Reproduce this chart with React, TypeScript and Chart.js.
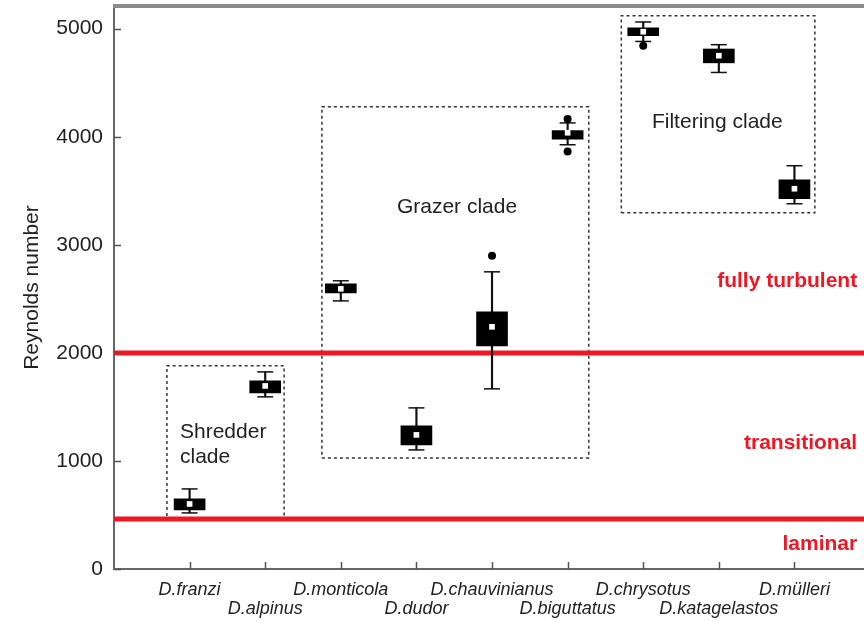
import React, { useEffect, useRef } from 'react';
import { Chart, registerables } from 'chart.js';

Chart.register(...registerables);

// ---- data ----
const species = [
  'D.franzi', 'D.alpinus', 'D.monticola', 'D.dudor', 'D.chauvinianus',
  'D.biguttatus', 'D.chrysotus', 'D.katagelastos', 'D.mülleri',
];
const whiskerLow = [519, 1593, 2481, 1102, 1667, 3926, 4882, 4595, 3380];
const q1 = [546, 1630, 2556, 1148, 2065, 3978, 4935, 4684, 3426];
const q3 = [650, 1741, 2639, 1324, 2380, 4058, 5009, 4812, 3602];
const whiskerHigh = [741, 1824, 2667, 1491, 2750, 4128, 5062, 4852, 3732];
const means = [602, 1694, 2593, 1241, 2241, 4037, 4972, 4750, 3519];
const outlierCat = [5, 6, 6, 7];
const outlierVal = [2898, 4165, 3863, 4843];

const yTicks = [0, 1000, 2000, 3000, 4000, 5000];
const thresholds = [2000, 463];
const regimeLabels = ['fully turbulent', 'transitional', 'laminar'];
const regimeLabelY = [2611, 1111, 176];
const regimeLabelX = 9.83;

const cladeNames = ['Shredder clade', 'Grazer clade', 'Filtering clade'];
const cladeX0 = [0.70, 2.75, 6.71];
const cladeX1 = [2.25, 6.28, 9.27];
const cladeY0 = [470, 1028, 3296];
const cladeY1 = [1880, 4278, 5120];

const X_MIN = 0;
const X_MAX = 9.92;
const Y_MIN = 0;
const Y_MAX = 5210;

const FONT = '"Liberation Sans", Arial, Helvetica, sans-serif';
const RED = 'rgb(240, 22, 36)';
const INK = '#222222';

const decorPlugin = {
  id: 'decor',
  afterDatasetsDraw(chart: any) {
    const { ctx, chartArea, scales } = chart;
    const x = scales.x;
    const y = scales.y;
    ctx.save();
    // top frame line
    ctx.strokeStyle = '#8c8c8c';
    ctx.lineWidth = 4;
    ctx.beginPath();
    ctx.moveTo(chartArea.left - 1, chartArea.top);
    ctx.lineTo(chartArea.right, chartArea.top);
    ctx.stroke();

    // inward tick marks
    ctx.strokeStyle = '#555';
    ctx.lineWidth = 1.5;
    ctx.beginPath();
    yTicks.forEach((v) => {
      const py = Math.round(y.getPixelForValue(v)) + 0.5;
      ctx.moveTo(chartArea.left, py);
      ctx.lineTo(chartArea.left + 7, py);
    });
    species.forEach((_, i) => {
      const px = Math.round(x.getPixelForValue(i + 1)) + 0.5;
      ctx.moveTo(px, chartArea.bottom);
      ctx.lineTo(px, chartArea.bottom - 7);
    });
    ctx.stroke();

    // clade labels
    ctx.fillStyle = INK;
    ctx.font = `21px ${FONT}`;
    ctx.textBaseline = 'alphabetic';
    ctx.textAlign = 'left';
    const sParts = cladeNames[0].split(' ');
    ctx.fillText(sParts[0], x.getPixelForValue(0.873), y.getPixelForValue(1213));
    ctx.fillText(sParts[1], x.getPixelForValue(0.873), y.getPixelForValue(981));
    ctx.textAlign = 'center';
    ctx.fillText(cladeNames[1], x.getPixelForValue(4.537), y.getPixelForValue(3296));
    ctx.fillText(cladeNames[2], x.getPixelForValue(7.98), y.getPixelForValue(4083));

    // regime labels
    ctx.fillStyle = RED;
    ctx.font = `bold 21px ${FONT}`;
    ctx.textAlign = 'right';
    regimeLabels.forEach((lab, i) => {
      ctx.fillText(lab, x.getPixelForValue(regimeLabelX), y.getPixelForValue(regimeLabelY[i]));
    });
    ctx.restore();
  },
};

export default function App() {
  const canvasRef = useRef<HTMLCanvasElement | null>(null);

  useEffect(() => {
    if (!canvasRef.current) return;
    Chart.defaults.font.family = FONT;

    const cats = species.map((_, i) => i + 1);

    const rectDatasets = cladeNames.map((name, k) => ({
      type: 'line' as const,
      label: name,
      data: [
        { x: cladeX0[k], y: cladeY0[k] },
        { x: cladeX1[k], y: cladeY0[k] },
        { x: cladeX1[k], y: cladeY1[k] },
        { x: cladeX0[k], y: cladeY1[k] },
        { x: cladeX0[k], y: cladeY0[k] },
      ],
      borderColor: '#333',
      borderWidth: 1.5,
      borderDash: [3, 3],
      pointRadius: 0,
      fill: false,
      tension: 0,
      order: 10,
    }));

    const redDatasets = thresholds.map((t, k) => ({
      type: 'line' as const,
      label: 'threshold ' + k,
      data: [
        { x: X_MIN, y: t },
        { x: X_MAX, y: t },
      ],
      borderColor: RED,
      borderWidth: 5,
      pointRadius: 0,
      fill: false,
      order: 9,
    }));

    const chart = new Chart(canvasRef.current, {
      type: 'scatter',
      data: {
        datasets: [
          ...rectDatasets,
          ...redDatasets,
          {
            type: 'bar' as const,
            label: 'whiskers',
            data: cats.map((c, i) => ({ x: c, y: [whiskerLow[i], whiskerHigh[i]] })) as any,
            backgroundColor: '#111',
            borderWidth: 0,
            barThickness: 1.5,
            grouped: false,
            order: 8,
          } as any,
          {
            type: 'scatter' as const,
            label: 'caps',
            data: [
              ...cats.map((c, i) => ({ x: c, y: whiskerLow[i] })),
              ...cats.map((c, i) => ({ x: c, y: whiskerHigh[i] })),
            ],
            pointStyle: 'line',
            pointRadius: 8,
            pointHoverRadius: 8,
            borderColor: '#111',
            pointBorderWidth: 1.5,
            borderWidth: 1.5,
            order: 7,
          } as any,
          {
            type: 'bar' as const,
            label: 'boxes',
            data: cats.map((c, i) => ({ x: c, y: [q1[i], q3[i]] })) as any,
            backgroundColor: '#000',
            borderWidth: 0,
            barThickness: 31,
            grouped: false,
            order: 6,
          } as any,
          {
            type: 'scatter' as const,
            label: 'outliers',
            data: outlierCat.map((c, i) => ({ x: c, y: outlierVal[i] })),
            pointStyle: 'circle',
            pointRadius: 4,
            backgroundColor: '#000',
            borderColor: '#000',
            borderWidth: 0,
            order: 5,
          },
          {
            type: 'scatter' as const,
            label: 'means',
            data: cats.map((c, i) => ({ x: c, y: means[i] })),
            pointStyle: 'rect',
            pointRadius: 4,
            backgroundColor: '#fff',
            borderColor: '#fff',
            borderWidth: 0,
            order: 1,
          },
        ],
      },
      options: {
        animation: false,
        responsive: true,
        maintainAspectRatio: false,
        layout: { autoPadding: false, padding: { top: 6, right: 0, left: 0, bottom: 0 } },
        plugins: {
          legend: { display: false },
          tooltip: { enabled: false },
        },
        events: [],
        scales: {
          x: {
            type: 'linear',
            min: X_MIN,
            max: X_MAX,
            bounds: 'data',
            offset: false,
            grid: { display: false, drawTicks: false },
            border: { display: true, color: '#666', width: 2 },
            afterBuildTicks: (s: any) => {
              s.ticks = cats.map((c) => ({ value: c }));
            },
            ticks: {
              autoSkip: false,
              maxRotation: 0,
              minRotation: 0,
              padding: 12,
              color: INK,
              font: { family: FONT, size: 18, style: 'italic', lineHeight: 1.05 },
              callback: (v: any) => {
                const i = Math.round(Number(v)) - 1;
                if (i < 0 || i >= species.length) return '';
                return i % 2 === 0 ? species[i] : ['', species[i]];
              },
            },
            afterFit: (s: any) => {
              s.height = 52;
              s.paddingLeft = 0;
              s.paddingRight = 0;
            },
          },
          y: {
            type: 'linear',
            min: Y_MIN,
            max: Y_MAX,
            bounds: 'data',
            grid: { display: false, drawTicks: false },
            border: { display: true, color: '#666', width: 2 },
            afterBuildTicks: (s: any) => {
              s.ticks = yTicks.map((v) => ({ value: v }));
            },
            ticks: {
              autoSkip: false,
              padding: 11,
              color: INK,
              font: { family: FONT, size: 21 },
              callback: (v: any) => String(v),
            },
            title: {
              display: true,
              text: 'Reynolds number',
              color: INK,
              font: { family: FONT, size: 21 },
              padding: { top: 20, bottom: 0 },
            },
            afterFit: (s: any) => {
              s.width = 114;
              s.paddingTop = 0;
              s.paddingBottom = 0;
            },
          },
        },
      } as any,
      plugins: [decorPlugin],
    });

    return () => {
      chart.destroy();
    };
  }, []);

  return (
    <div style={{ position: 'fixed', left: 0, top: 0, width: 864, height: 621, background: '#fff' }}>
      <canvas ref={canvasRef} />
    </div>
  );
}
